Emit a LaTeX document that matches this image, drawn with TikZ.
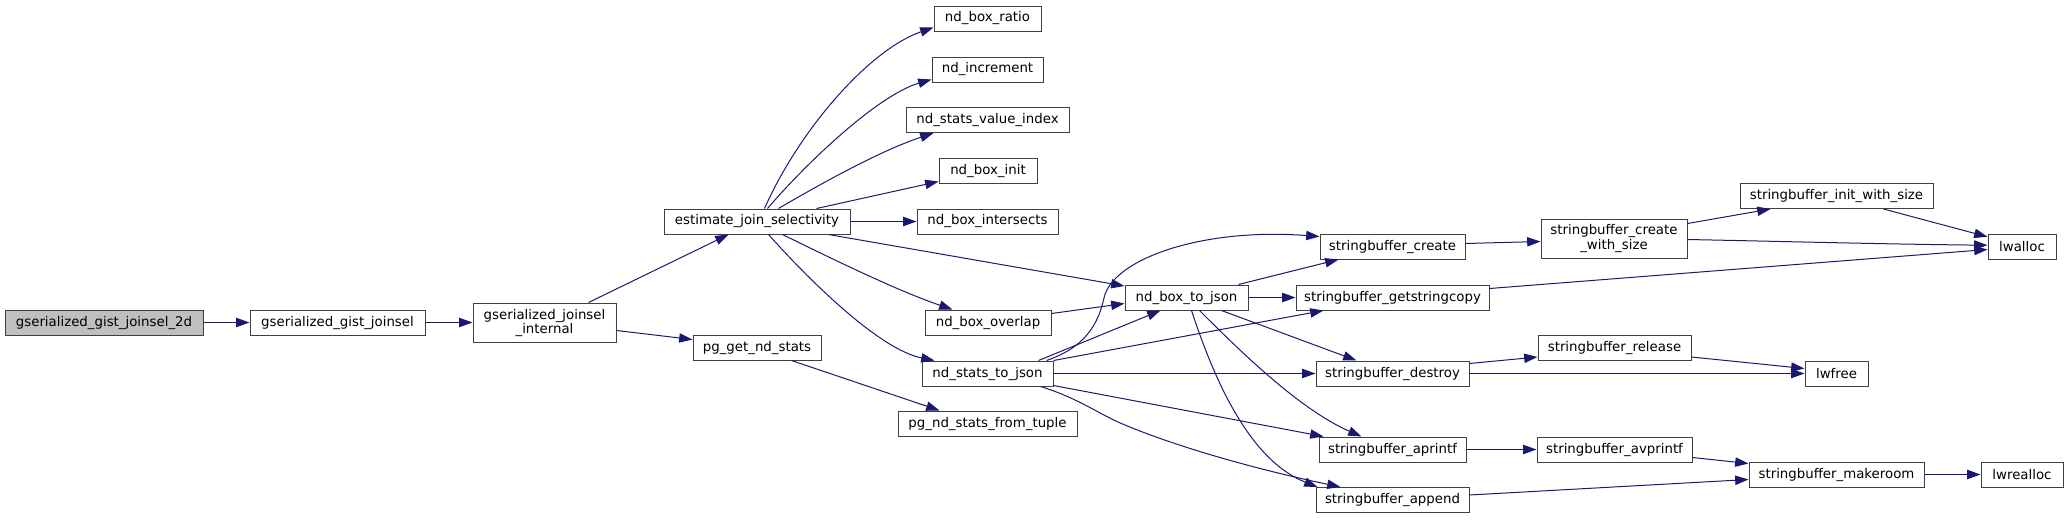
\documentclass[tikz,border=0pt]{standalone}
\usepackage{fontspec}
\setmainfont{DejaVu Sans}
\usetikzlibrary{arrows.meta,calc}
\definecolor{edgec}{HTML}{191970}
\definecolor{bordc}{HTML}{404040}
\definecolor{rootc}{HTML}{BFBFBF}
\tikzset{
 box/.style={draw=bordc, line width=0.75pt, fill=white, inner sep=0pt, font=\fontsize{10}{10.5}\selectfont, align=center, text=black},
 bw/.style={minimum width=#1*0.75pt},
 bh/.style={minimum height=#1*0.75pt},
 edge/.style={draw=edgec, line width=0.75pt, -{Triangle[length=10pt,width=7pt]}},
}
\begin{document}
\begin{tikzpicture}[x=0.75pt,y=-0.75pt]
\useasboundingbox (0,0) rectangle (2068,519);
\node[box,bw=198,bh=25,fill=rootc] (a2d) at (104,322.5) {gserialized\_gist\_joinsel\_2d};
\node[box,bw=175,bh=25] (gj) at (337.5,322.5) {gserialized\_gist\_joinsel};
\node[box,bw=143,bh=39] (gji) at (544.5,322.5) {gserialized\_joinsel\\\_internal};
\node[box,bw=186,bh=25] (ejs) at (757,221.5) {estimate\_join\_selectivity};
\node[box,bw=128,bh=25] (pgs) at (757,347.5) {pg\_get\_nd\_stats};
\node[box,bw=107,bh=25] (nbr) at (987.5,18.5) {nd\_box\_ratio};
\node[box,bw=111,bh=25] (ninc) at (987.5,69.5) {nd\_increment};
\node[box,bw=163,bh=25] (nsvi) at (987.5,120) {nd\_stats\_value\_index};
\node[box,bw=98,bh=25] (nbi) at (988,170.5) {nd\_box\_init};
\node[box,bw=141,bh=25] (nbx) at (987.5,221.5) {nd\_box\_intersects};
\node[box,bw=126,bh=25] (nbo) at (988,322.5) {nd\_box\_overlap};
\node[box,bw=131,bh=25] (nsj) at (987.5,373.5) {nd\_stats\_to\_json};
\node[box,bw=179,bh=25] (pnft) at (987.5,423.5) {pg\_nd\_stats\_from\_tuple};
\node[box,bw=123,bh=25] (nbj) at (1186.5,297.5) {nd\_box\_to\_json};
\node[box,bw=145,bh=25] (sbc) at (1392.5,246.5) {stringbuffer\_create};
\node[box,bw=193,bh=25] (sbg) at (1392.5,297.5) {stringbuffer\_getstringcopy};
\node[box,bw=153,bh=25] (sbd) at (1392.5,373.5) {stringbuffer\_destroy};
\node[box,bw=147,bh=25] (sba) at (1392.5,449.5) {stringbuffer\_aprintf};
\node[box,bw=153,bh=25] (sbap) at (1392.5,500) {stringbuffer\_append};
\node[box,bw=146,bh=39] (sbcws) at (1614,238.5) {stringbuffer\_create\\\_with\_size};
\node[box,bw=193,bh=25] (sbiws) at (1836.5,196) {stringbuffer\_init\_with\_size};
\node[box,bw=68,bh=25] (lwa) at (2022,246.5) {lwalloc};
\node[box,bw=153,bh=25] (sbr) at (1614.5,348) {stringbuffer\_release};
\node[box,bw=63,bh=25] (lwf) at (1836.5,373.5) {lwfree};
\node[box,bw=155,bh=25] (sbav) at (1614.5,449.5) {stringbuffer\_avprintf};
\node[box,bw=175,bh=25] (sbm) at (1836.5,474.5) {stringbuffer\_makeroom};
\node[box,bw=82,bh=25] (lwr) at (2022,474.5) {lwrealloc};
% edges
\draw[edge] (a2d.east) -- (gj.west);
\draw[edge] (gj.east) -- (gji.west);
\draw[edge] ($(gji.north west)+(116,0)$) -- ($(ejs.south west)+(65,0)$);
\draw[edge] ($(gji.north east)+(0,28)$) -- ($(pgs.north west)+(0,5)$);
\draw[edge] ($(pgs.south west)+(99,0)$) -- ($(pnft.north west)+(42,0)$);
\draw[edge] ($(ejs.north west)+(101,0)$) .. controls +(35,-79) and +(-64,22) .. ($(nbr.north west)+(0,22)$);
\draw[edge] ($(ejs.north west)+(104,0)$) .. controls +(42,-49) and +(-52,15) .. ($(ninc.north west)+(0,23)$);
\draw[edge] ($(ejs.north west)+(115,0)$) .. controls +(41,-24) and +(-54,18) .. ($(nsvi.south west)+(28,0)$);
\draw[edge] ($(ejs.north west)+(153,0)$) -- ($(nbi.north west)+(0,24)$);
\draw[edge] (ejs.east) -- (nbx.west);
\draw[edge] ($(ejs.south west)+(165,0)$) -- ($(nbj.north west)+(0,1.5)$);
\draw[edge] ($(ejs.south west)+(119,0)$) .. controls +(57,28) and +(-53,-18) .. ($(nbo.north west)+(28,0)$);
\draw[edge] ($(ejs.south west)+(105,0)$) .. controls +(41,46) and +(-55,-11) .. ($(nsj.north west)+(13,0)$);
\draw[edge] ($(nbo.north east)+(0,4)$) -- ($(nbj.north west)+(0,19)$);
\draw[edge] ($(nsj.north west)+(117,0)$) -- ($(nbj.south west)+(36,0)$);
\draw[edge] ($(nsj.north west)+(125,0)$) .. controls +(38,-13) and +(-6,27) .. (1104,298) .. controls +(8,-38) and +(-120,-9) .. ($(sbc.north west)+(0,3)$);
\draw[edge] (nsj.north east) -- ($(sbg.south west)+(28,0)$);
\draw[edge] (nsj.east) -- (sbd.west);
\draw[edge] ($(nsj.south east)+(0,-1)$) -- ($(sba.north west)+(5,0)$);
\draw[edge] ($(nsj.south west)+(119,0)$) .. controls +(39,12) and +(-25,-10) .. (1125,425) .. controls +(55,23) and +(-81,-17) .. ($(sbap.north west)+(25,0)$);
\draw[edge] ($(nbj.north west)+(114,0)$) -- ($(sbc.south west)+(19,0)$);
\draw[edge] (nbj.east) -- (sbg.west);
\draw[edge] ($(nbj.south west)+(97,0)$) -- ($(sbd.north west)+(41,0)$);
\draw[edge] ($(nbj.south west)+(75,0)$) .. controls +(40,40) and +(-62,-27) .. ($(sba.north west)+(43,0)$);
\draw[edge] ($(nbj.south west)+(67,0)$) .. controls +(23,70) and +(-68,-27) .. ($(sbap.north west)+(2,0)$);
\draw[edge] ($(sbc.north east)+(0,10)$) -- ($(sbcws.north west)+(0,23)$);
\draw[edge] ($(sbg.north east)+(0,4)$) -- ($(lwa.north west)+(0,16)$);
\draw[edge] ($(sbd.north east)+(0,3)$) -- ($(sbr.north west)+(0,22)$);
\draw[edge] (sbd.east) -- (lwf.west);
\draw[edge] (sba.east) -- (sbav.west);
\draw[edge] ($(sbap.north east)+(0,8)$) -- ($(sbm.north west)+(0,18)$);
\draw[edge] ($(sbcws.north east)+(0,5)$) -- ($(sbiws.south west)+(31,0)$);
\draw[edge] ($(sbcws.north east)+(0,21)$) .. controls +(100,2) and +(-100,-1) .. ($(lwa.north west)+(0,11.7)$);
\draw[edge] ($(sbiws.south west)+(144,0)$) -- ($(lwa.north west)+(0,3.3)$);
\draw[edge] ($(sbr.north east)+(0,22)$) -- ($(lwf.north west)+(0,8)$);
\draw[edge] ($(sbav.north east)+(0,21)$) -- ($(sbm.north west)+(0,2)$);
\draw[edge] (sbm.east) -- (lwr.west);
\end{tikzpicture}
\end{document}
